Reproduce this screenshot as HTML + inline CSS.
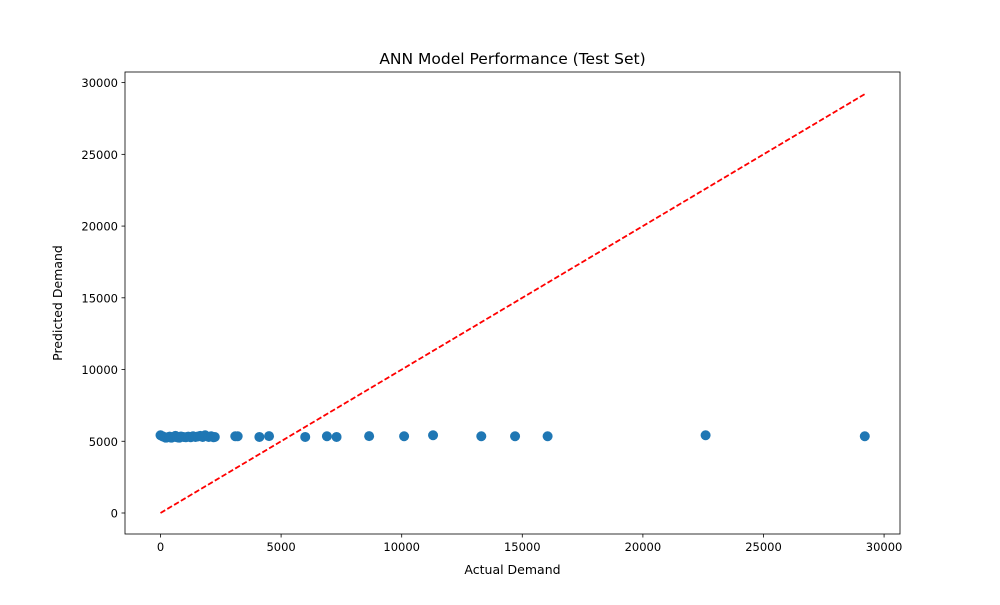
<!DOCTYPE html>
<html><head><meta charset="utf-8"><style>
body{margin:0;background:#fff;}
svg text{font-family:"DejaVu Sans","Liberation Sans",sans-serif;fill:#000;}
</style></head><body>
<svg id="chart" width="1000" height="600" xmlns="http://www.w3.org/2000/svg">
<rect width="1000" height="600" fill="#fff"/>
<text x="512.5" y="64" font-size="15.5" text-anchor="middle">ANN Model Performance (Test Set)</text>
<text x="512.5" y="574" font-size="12.5" text-anchor="middle">Actual Demand</text>
<text x="0" y="0" font-size="12.5" text-anchor="middle" transform="translate(62,303) rotate(-90)">Predicted Demand</text>
<g id="marks"></g>
<g id="axes"></g>
</svg>
<script>
const actual=[0,80,150,220,300,380,450,550,620,700,780,850,950,1050,1150,1250,1350,1450,1550,1650,1750,1850,2000,2100,2200,2250,3100,3200,4100,4500,6000,6900,7300,8650,10100,11300,13300,14700,16050,22600,29200];
const predicted=[5420,5350,5300,5250,5280,5320,5250,5300,5380,5270,5250,5330,5300,5280,5320,5280,5350,5300,5330,5380,5300,5420,5300,5350,5280,5300,5350,5350,5300,5360,5300,5350,5300,5360,5350,5420,5350,5350,5350,5420,5350];
const xTicks=[0,5000,10000,15000,20000,25000,30000];
const yTicks=[0,5000,10000,15000,20000,25000,30000];
const L=125,R=900,T=72,B=534;
const xMin=-1472,xMax=30660,yMin=-1464,yMax=30740;
const sx=v=>L+(v-xMin)/(xMax-xMin)*(R-L);
const sy=v=>B-(v-yMin)/(yMax-yMin)*(B-T);
const NS="http://www.w3.org/2000/svg";
function mk(tag,attrs,parent){const e=document.createElementNS(NS,tag);for(const k in attrs)e.setAttribute(k,attrs[k]);parent.appendChild(e);return e;}
const marks=document.getElementById('marks'),axes=document.getElementById('axes');
actual.forEach((a,i)=>{
  const c=mk('circle',{cx:sx(a),cy:sy(predicted[i]),r:5,fill:'#1f77b4'},marks);
  
  
});
const mx=Math.max(...actual),mn=Math.min(...actual);
const ln=mk('line',{x1:sx(mn),y1:sy(mn),x2:sx(mx),y2:sy(mx),stroke:'#ff0000','stroke-width':1.8,'stroke-dasharray':'5.5,2.4'},marks);


const fr=mk('rect',{x:L,y:T,width:R-L,height:B-T,fill:'none',stroke:'#000','stroke-width':0.8},axes);


xTicks.forEach(t=>{
  const x=sx(t);
  mk('line',{x1:x,y1:B,x2:x,y2:B+3.5,stroke:'#000','stroke-width':0.8},axes);
  const tx=mk('text',{x:x,y:B+17,'font-size':11.5,'text-anchor':'middle'},axes);
  tx.textContent=t;
  
  
});
yTicks.forEach(t=>{
  const y=sy(t);
  mk('line',{x1:L-3.5,y1:y,x2:L,y2:y,stroke:'#000','stroke-width':0.8},axes);
  const tx=mk('text',{x:L-7,y:y+4.5,'font-size':11.5,'text-anchor':'end'},axes);
  tx.textContent=t;
  
  
});
</script>
</body></html>
